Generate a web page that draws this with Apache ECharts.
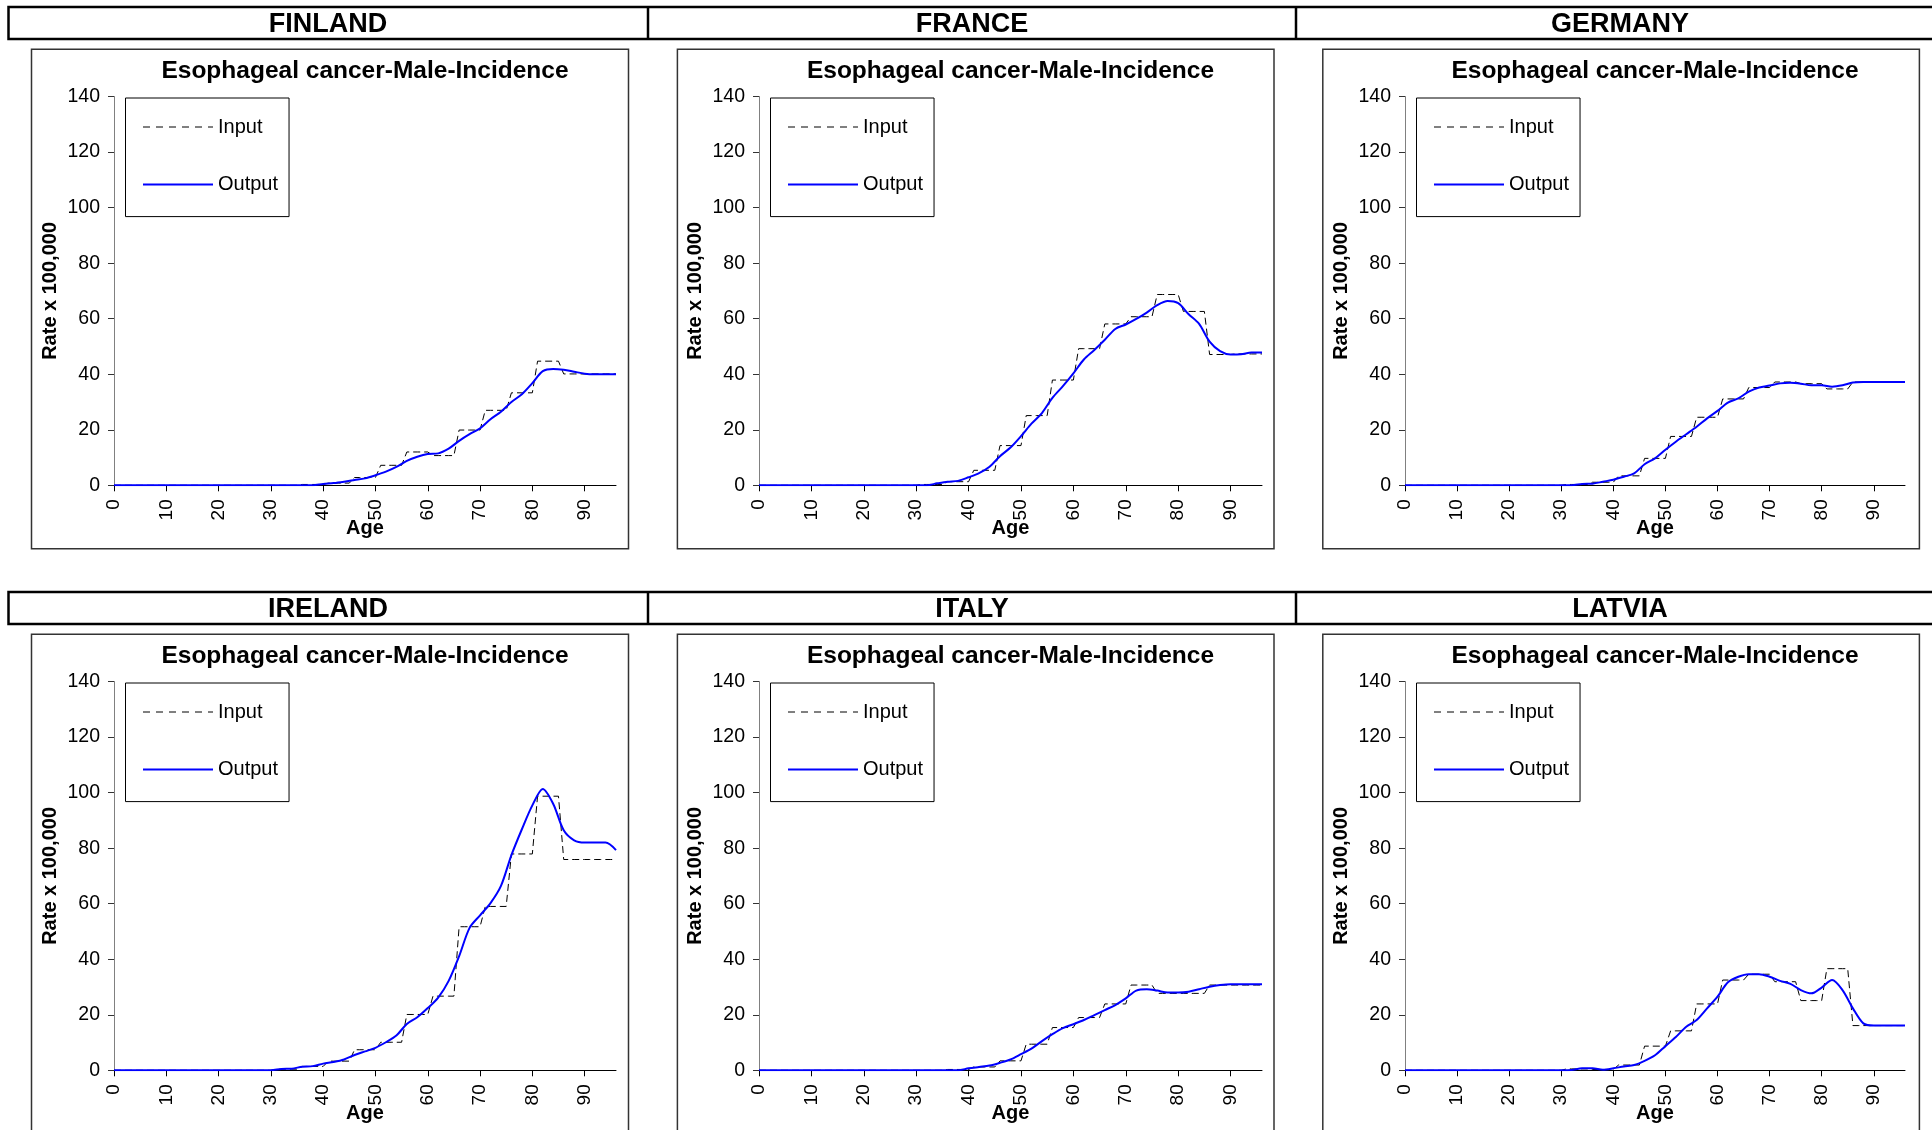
<!DOCTYPE html>
<html>
<head>
<meta charset="utf-8">
<script src="https://cdn.jsdelivr.net/npm/echarts@6/dist/echarts.min.js"></script>
<style>
html,body{margin:0;padding:0;background:#fff;}
#c{width:1932px;height:1130px;}
</style>
</head>
<body>
<div id="c"></div>
<script>
// ---------- data ----------
const countries = ['FINLAND', 'FRANCE', 'GERMANY', 'IRELAND', 'ITALY', 'LATVIA'];
const chartTitle = 'Esophageal cancer-Male-Incidence';
const yAxisTitle = 'Rate x 100,000';
const xAxisTitle = 'Age';
const xTickLabels = [0, 10, 20, 30, 40, 50, 60, 70, 80, 90];
const yTickLabels = [0, 20, 40, 60, 80, 100, 120, 140];

// Input: 5-year group rates; group k covers ages 5k+1 .. 5k+5 (age 0 uses group 0)
const inputFinland = [0, 0, 0, 0, 0, 0, 0, 0.3, 0.8, 2.8, 7.2, 12.0, 10.7, 19.9, 27.0, 33.3, 44.7, 40.1, 40.1, 40.1];
const inputFrance  = [0, 0, 0, 0, 0, 0, 0.3, 1.3, 5.4, 14.3, 25.1, 37.9, 49.2, 58.1, 60.7, 68.7, 62.6, 47.1, 47.3, 47.3];
const inputGermany = [0, 0, 0, 0, 0, 0, 0.3, 1.1, 3.4, 9.7, 17.6, 24.5, 31.1, 35.2, 37.2, 36.6, 34.7, 37.2, 37.2, 37.2];
const inputIreland = [0, 0, 0, 0, 0, 0, 0.4, 1.4, 3.3, 7.4, 10.1, 20.1, 26.7, 51.7, 59.0, 77.9, 98.7, 75.9, 75.9, 75.9];
const inputItaly   = [0, 0, 0, 0, 0, 0, 0, 0.3, 1.2, 3.4, 9.4, 15.4, 19.0, 23.9, 30.7, 27.7, 27.7, 30.7, 30.7, 30.7];
const inputLatvia  = [0, 0, 0, 0, 0, 0, 0.5, 0.3, 1.9, 8.7, 14.2, 23.9, 32.5, 34.6, 31.9, 25.1, 36.6, 16.1, 16.1, 16.1];

// Output: smoothed rates read at these ages
const outputAges = [0, 30, 32, 34, 36, 38, 40, 42, 44, 46, 48, 50, 52, 54, 56, 58, 60, 62, 64, 66, 68, 70, 72, 74, 76, 78, 80, 82, 84, 86, 88, 90, 92, 94, 96];
const outputFinland = [0, 0, 0, 0, 0, 0, 0.5, 0.8, 1.3, 1.9, 2.5, 3.6, 4.9, 6.6, 8.8, 10.3, 11.3, 11.5, 13.2, 16.0, 18.4, 20.5, 23.8, 26.5, 30.0, 32.8, 36.8, 41.1, 41.9, 41.6, 40.9, 40.2, 40.0, 40.0, 40.0];
const outputFrance  = [0, 0, 0, 0.7, 1.3, 1.6, 2.9, 4.4, 6.7, 10.5, 13.6, 17.7, 22.2, 26.0, 31.5, 35.7, 40.3, 45.3, 48.7, 52.4, 56.3, 57.9, 59.9, 62.2, 64.9, 66.4, 65.6, 61.6, 58.1, 51.7, 48.3, 47.1, 47.2, 47.8, 47.8];
const outputGermany = [0, 0, 0, 0.5, 0.6, 1.3, 2.0, 3.1, 4.3, 7.6, 9.7, 12.8, 15.7, 18.4, 21.1, 24.1, 26.8, 29.8, 31.3, 33.7, 35.2, 35.9, 36.7, 36.9, 36.6, 36.0, 36.0, 35.5, 36.0, 37.0, 37.2, 37.2, 37.2, 37.2, 37.2];
const outputIreland = [0, 0, 0.5, 0.6, 1.3, 1.5, 2.4, 3.0, 3.9, 5.5, 6.8, 8.1, 10.1, 12.5, 16.7, 19.1, 22.4, 26.2, 32.2, 41.1, 51.3, 55.8, 60.2, 66.4, 77.5, 86.8, 95.4, 101.3, 95.9, 86.4, 82.8, 82.0, 82.0, 82.0, 79.3];
const outputItaly   = [0, 0, 0, 0, 0, 0, 0.7, 1.2, 1.7, 2.7, 3.9, 5.8, 7.8, 10.5, 13.0, 15.2, 16.6, 18.1, 19.9, 21.7, 23.5, 25.9, 28.7, 29.2, 28.7, 28.0, 28.0, 28.3, 29.2, 30.1, 30.7, 31.0, 31.0, 31.0, 31.0];
const outputLatvia  = [0, 0, 0.1, 0.7, 0.7, 0.2, 0.7, 1.4, 1.9, 3.4, 5.4, 8.7, 12.0, 15.7, 18.1, 22.3, 26.5, 31.7, 33.7, 34.6, 34.6, 33.7, 32.2, 31.1, 28.9, 27.7, 29.8, 32.5, 28.9, 22.3, 16.9, 16.1, 16.1, 16.1, 16.1];

const inputs = [inputFinland, inputFrance, inputGermany, inputIreland, inputItaly, inputLatvia];
const outputs = [outputFinland, outputFrance, outputGermany, outputIreland, outputItaly, outputLatvia];

// ---------- layout ----------
const FONT = '"Liberation Sans", Arial, sans-serif';
const colPlot = [{left: 114, width: 502}, {left: 759, width: 503}, {left: 1405, width: 500}];
const colBox = [{x: 31.5, w: 597}, {x: 677.4, w: 596.6}, {x: 1322.8, w: 596.6}];
const colHeaderCenter = [328, 972, 1620];
const ROW_OFF = 585;
const PLOT_TOP = 96.5, PLOT_H = 388.8;

const ages = [];
for (let a = 0; a <= 96; a++) ages.push(a);
function groupIndex(a) { return a === 0 ? 0 : Math.floor((a - 1) / 5); }

const grids = [], xAxes = [], yAxes = [], series = [], legends = [], titles = [], graphics = [];

for (let r = 0; r < 2; r++) {
  const dy = r * ROW_OFF;
  graphics.push({type: 'rect', shape: {x: 8.5, y: 7 + dy, width: 1940, height: 32},
    style: {fill: 'none', stroke: '#000', lineWidth: 2.5}, silent: true});
  graphics.push({type: 'line', shape: {x1: 648, y1: 7 + dy, x2: 648, y2: 39 + dy},
    style: {stroke: '#000', lineWidth: 2.5}, silent: true});
  graphics.push({type: 'line', shape: {x1: 1296, y1: 7 + dy, x2: 1296, y2: 39 + dy},
    style: {stroke: '#000', lineWidth: 2.5}, silent: true});
}

for (let i = 0; i < 6; i++) {
  const r = Math.floor(i / 3), c = i % 3;
  const dy = r * ROW_OFF;
  const pl = colPlot[c];
  const plotCenter = pl.left + pl.width / 2;

  graphics.push({type: 'rect', shape: {x: colBox[c].x, y: 49.3 + dy, width: colBox[c].w, height: 499.5},
    style: {fill: 'none', stroke: '#333', lineWidth: 1.5}, silent: true});

  titles.push({text: countries[i], left: colHeaderCenter[c], top: 11.5 + dy, textAlign: 'center', padding: 0,
    textStyle: {fontFamily: FONT, fontSize: 27, fontWeight: 'bold', color: '#000'}});
  titles.push({text: chartTitle, left: plotCenter, top: 58.3 + dy, textAlign: 'center', padding: 0,
    textStyle: {fontFamily: FONT, fontSize: 24.5, fontWeight: 'bold', color: '#000'}});

  grids.push({left: pl.left, top: PLOT_TOP + dy, width: pl.width, height: PLOT_H, containLabel: false});

  xAxes.push({
    type: 'value', gridIndex: i, min: 0, max: 96,
    name: xAxisTitle, nameLocation: 'middle', nameGap: 33.5, nameMoveOverlap: false,
    nameTextStyle: {fontFamily: FONT, fontSize: 20, fontWeight: 'bold', color: '#000'},
    splitLine: {show: false},
    axisLine: {onZero: false, lineStyle: {color: '#000', width: 1}},
    axisTick: {show: true, inside: false, length: 6, customValues: xTickLabels, lineStyle: {color: '#000'}},
    axisLabel: {rotate: 90, margin: 14, customValues: xTickLabels, fontFamily: FONT, fontSize: 19, color: '#000'}
  });
  yAxes.push({
    type: 'value', gridIndex: i, min: 0, max: 140, interval: 20,
    name: yAxisTitle, nameLocation: 'middle', nameGap: 54, nameRotate: 90, nameMoveOverlap: false,
    nameTextStyle: {fontFamily: FONT, fontSize: 20, fontWeight: 'bold', color: '#000'},
    splitLine: {show: false},
    axisLine: {show: true, lineStyle: {color: '#808080', width: 1}},
    axisTick: {show: true, inside: false, length: 6, lineStyle: {color: '#333'}},
    axisLabel: {margin: 14, fontFamily: FONT, fontSize: 19.5, color: '#000',
      formatter: v => (yTickLabels.indexOf(v) >= 0 ? String(v) : '')}
  });

  const inp = inputs[i];
  series.push({
    name: 'Input', type: 'line', xAxisIndex: i, yAxisIndex: i, symbol: 'none', z: 2,
    data: ages.map(a => [a, inp[groupIndex(a)]]),
    lineStyle: {color: '#000', width: 1, type: [7, 4]},
    itemStyle: {color: '#000'}, animation: false
  });
  const out = outputs[i];
  series.push({
    name: 'Output', type: 'line', xAxisIndex: i, yAxisIndex: i, symbol: 'none', z: 3,
    smooth: 0.3,
    data: outputAges.map((a, k) => [a, out[k]]),
    lineStyle: {color: '#0000ff', width: 2},
    itemStyle: {color: '#0000ff'}, animation: false
  });

  legends.push({
    left: pl.left + 11.5, top: 98 + dy, orient: 'vertical',
    data: [
      {name: 'Input', lineStyle: {type: [7, 6], color: '#000', width: 1}},
      {name: 'Output'}
    ],
    selectedMode: false,
    itemWidth: 70, itemHeight: 20, itemGap: 37.6,
    padding: [19, 11, 22, 16.5],
    borderColor: '#000', borderWidth: 1, backgroundColor: '#fff',
    itemStyle: {color: 'rgba(0,0,0,0)', borderWidth: 0, opacity: 0},
    textStyle: {fontFamily: FONT, fontSize: 20, color: '#000', lineHeight: 20}
  });
}

const chart = echarts.init(document.getElementById('c'), null, {renderer: 'canvas'});
chart.setOption({
  animation: false,
  backgroundColor: '#fff',
  title: titles,
  grid: grids,
  xAxis: xAxes,
  yAxis: yAxes,
  legend: legends,
  series: series,
  graphic: graphics
});
</script>
</body>
</html>
